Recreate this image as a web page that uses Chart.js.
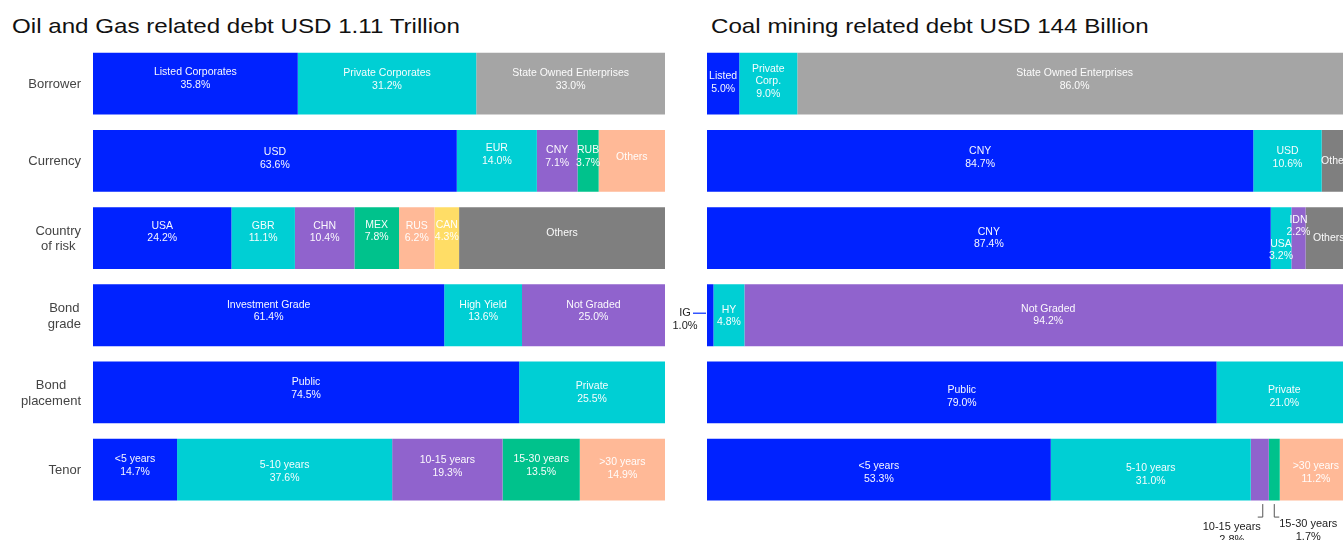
<!DOCTYPE html>
<html>
<head>
<meta charset="utf-8">
<script src="https://cdn.jsdelivr.net/npm/chart.js@4.4.1/dist/chart.umd.min.js"></script>
<style>
  html, body { margin: 0; padding: 0; background: #fff; overflow: hidden; }
  #page { position: relative; width: 1343px; height: 540px; overflow: hidden; font-family: "Liberation Sans", Arial, sans-serif; }
  .title { position: absolute; top: 14px; margin: 0; font-size: 21px; line-height: 24px; font-weight: normal; color: #111; white-space: nowrap; transform: scaleX(1.15); transform-origin: 0 0; }
  canvas { position: absolute; }
</style>
</head>
<body>
<div id="page">
  <h2 class="title" style="left:12px">Oil and Gas related debt USD 1.11 Trillion</h2>
  <h2 class="title" style="left:711px">Coal mining related debt USD 144 Billion</h2>
  <canvas id="oil" width="680" height="496" style="left:0;top:44px"></canvas>
  <canvas id="coal" width="690" height="496" style="left:670px;top:44px"></canvas>
</div>
<script>
const rowLabels = ['Borrower', 'Currency', ['Country', 'of risk'], ['Bond', 'grade'], ['Bond', 'placement'], 'Tenor'];

// oil and gas debt, share in %
const oilBorrower = [35.8, 31.2, 33.0];
const oilCurrency = [63.6, 14.0, 7.1, 3.7, 11.6];
const oilCountry = [24.2, 11.1, 10.4, 7.8, 6.2, 4.3, 36.0];
const oilGrade = [61.4, 13.6, 25.0];
const oilPlacement = [74.5, 25.5];
const oilTenor = [14.7, 37.6, 19.3, 13.5, 14.9];

// coal mining debt, share in %
const coalBorrower = [5.0, 9.0, 86.0];
const coalCurrency = [84.7, 10.6, 4.7];
const coalCountry = [87.4, 3.2, 2.2, 7.2];
const coalGrade = [1.0, 4.8, 94.2];
const coalPlacement = [79.0, 21.0];
const coalTenor = [53.3, 31.0, 2.8, 1.7, 11.2];

// segment names
const oilBorrowerNames = ['Listed Corporates', 'Private Corporates', 'State Owned Enterprises'];
const coalBorrowerNames = ['Listed', 'Private\nCorp.', 'State Owned Enterprises'];
const oilCurrencyNames = ['USD', 'EUR', 'CNY', 'RUB', 'Others'];
const coalCurrencyNames = ['CNY', 'USD', 'Others'];
const oilCountryNames = ['USA', 'GBR', 'CHN', 'MEX', 'RUS', 'CAN', 'Others'];
const coalCountryNames = ['CNY', 'USA', 'IDN', 'Others'];
const oilGradeNames = ['Investment Grade', 'High Yield', 'Not Graded'];
const coalGradeNames = ['IG', 'HY', 'Not Graded'];
const placementNames = ['Public', 'Private'];
const tenorNames = ['<5 years', '5-10 years', '10-15 years', '15-30 years', '>30 years'];

const BLUE = '#0022ff', CYAN = '#00cfd4', GREY = '#a5a5a5', PURPLE = '#9063cd',
      GREEN = '#00c28c', PEACH = '#ffb997', YELLOW = '#ffdd66', DARK = '#7f7f7f';

const oilColors = [
  [BLUE, CYAN, GREY],
  [BLUE, CYAN, PURPLE, GREEN, PEACH],
  [BLUE, CYAN, PURPLE, GREEN, PEACH, YELLOW, DARK],
  [BLUE, CYAN, PURPLE],
  [BLUE, CYAN],
  [BLUE, CYAN, PURPLE, GREEN, PEACH]
];
const coalColors = [
  [BLUE, CYAN, GREY],
  [BLUE, CYAN, DARK],
  [BLUE, CYAN, PURPLE, DARK],
  [BLUE, CYAN, PURPLE],
  [BLUE, CYAN],
  [BLUE, CYAN, PURPLE, GREEN, PEACH]
];

// vertical nudge of each inside label (px)
const oilNudge = [[-5, -4, -4], [-2, -6, -4, -4, -4], [-6, -6, -6, -7, -6, -7, -5], [-4, -4, -4], [-4, 0], [-4, 2, -3, -4, -1]];
const coalNudge = [[-1, -2, -4], [-3, -3, 0], [0, 12, -12, 0], [0, 1, 0], [4, 4], [3, 5, 0, 0, 3]];

// small coal segments labelled outside the bar
const coalCallouts = { '3-0': 'left', '5-2': 'belowLeft', '5-3': 'belowRight' };

const FONT = '"Liberation Sans", Arial, sans-serif';

const segLabels = {
  id: 'segLabels',
  afterDatasetsDraw(chart, args, opts) {
    const ctx = chart.ctx;
    ctx.save();
    ctx.textBaseline = 'middle';

    // row titles: block right-aligned to the axis, lines centred inside it
    if (opts.rowTitles) {
      const yScale = chart.scales.y;
      ctx.font = '13px ' + FONT;
      ctx.fillStyle = '#444';
      ctx.textAlign = 'center';
      chart.data.labels.forEach((lbl, i) => {
        const lines = Array.isArray(lbl) ? lbl : [lbl];
        const w = Math.max(...lines.map(t => ctx.measureText(t).width));
        const x = chart.chartArea.left - 12 - w / 2;
        const y = yScale.getPixelForTick(i) + 1;
        lines.forEach((t, j) => ctx.fillText(t, x, y + (j - (lines.length - 1) / 2) * 15.6));
      });
    }

    ctx.textAlign = 'center';
    chart.data.datasets.forEach((ds, i) => {
      const bar = chart.getDatasetMeta(i).data[ds.row];
      if (!bar) return;
      const v = ds.data[ds.row];
      const lines = ds.name.split('\n');
      if (ds.name !== 'Others') lines.push(v.toFixed(1) + '%');
      const cx = (bar.x + bar.base) / 2;

      if (ds.callout === 'left') {
        const y = bar.y - 2;
        ctx.strokeStyle = '#3355ff';
        ctx.lineWidth = 1.5;
        ctx.beginPath();
        ctx.moveTo(bar.base - 14, y);
        ctx.lineTo(bar.base - 1, y);
        ctx.stroke();
        ctx.fillStyle = '#222';
        ctx.font = '11px ' + FONT;
        ctx.fillText(lines[0], bar.base - 22, y);
        ctx.fillText(lines[1], bar.base - 22, y + 13);
        return;
      }
      if (ds.callout === 'belowLeft' || ds.callout === 'belowRight') {
        const top = bar.y + bar.height / 2 + 3.5;
        const bot = top + 13;
        const left = ds.callout === 'belowLeft';
        const lx = left ? cx + 3 : cx;
        ctx.strokeStyle = '#555';
        ctx.lineWidth = 1;
        ctx.beginPath();
        ctx.moveTo(lx, top);
        ctx.lineTo(lx, bot);
        ctx.lineTo(lx + (left ? -5 : 5), bot);
        ctx.stroke();
        ctx.fillStyle = '#222';
        ctx.font = '11px ' + FONT;
        const tx = left ? lx - 31 : lx + 34;
        const ty = left ? bot + 10 : bot + 7;
        ctx.fillText(lines[0], tx, ty);
        ctx.fillText(lines[1], tx, ty + 13);
        return;
      }

      ctx.fillStyle = 'rgba(255,255,255,0.96)';
      ctx.font = '10.5px ' + FONT;
      const lh = 12.5;
      const cy = bar.y + ds.nudge;
      lines.forEach((t, j) => {
        ctx.fillText(t, cx, cy + (j - (lines.length - 1) / 2) * lh);
      });
    });
    ctx.restore();
  }
};

function makeChart(id, rows, names, colors, nudges, callouts, padding, axisWidth) {
  const datasets = [];
  rows.forEach((vals, r) => {
    vals.forEach((v, k) => {
      datasets.push({
        data: rowLabels.map((_, i) => (i === r ? v : null)),
        backgroundColor: colors[r][k],
        borderWidth: 0,
        barPercentage: 1,
        categoryPercentage: 0.8,
        name: names[r][k],
        row: r,
        nudge: nudges[r][k],
        callout: callouts[r + '-' + k] || null
      });
    });
  });

  return new Chart(document.getElementById(id), {
    type: 'bar',
    data: { labels: rowLabels, datasets },
    options: {
      indexAxis: 'y',
      responsive: false,
      animation: false,
      layout: { padding },
      plugins: {
        legend: { display: false },
        tooltip: { enabled: false },
        segLabels: { rowTitles: axisWidth > 0 }
      },
      scales: {
        x: { stacked: true, min: 0, max: 100, display: false },
        y: {
          stacked: true,
          grid: { display: false, drawTicks: false },
          border: { display: false },
          ticks: { display: false },
          afterFit: s => {
            s.width = axisWidth;
            s.paddingTop = 0;
            s.paddingBottom = 0;
          }
        }
      }
    },
    plugins: [segLabels]
  });
}

makeChart('oil',
  [oilBorrower, oilCurrency, oilCountry, oilGrade, oilPlacement, oilTenor],
  [oilBorrowerNames, oilCurrencyNames, oilCountryNames, oilGradeNames, placementNames, tenorNames],
  oilColors, oilNudge, {},
  { top: 1, bottom: 31.7, left: 0, right: 15 }, 93);

makeChart('coal',
  [coalBorrower, coalCurrency, coalCountry, coalGrade, coalPlacement, coalTenor],
  [coalBorrowerNames, coalCurrencyNames, coalCountryNames, coalGradeNames, placementNames, tenorNames],
  coalColors, coalNudge, coalCallouts,
  { top: 1, bottom: 31.7, left: 37, right: 8 }, 0);
</script>
</body>
</html>
